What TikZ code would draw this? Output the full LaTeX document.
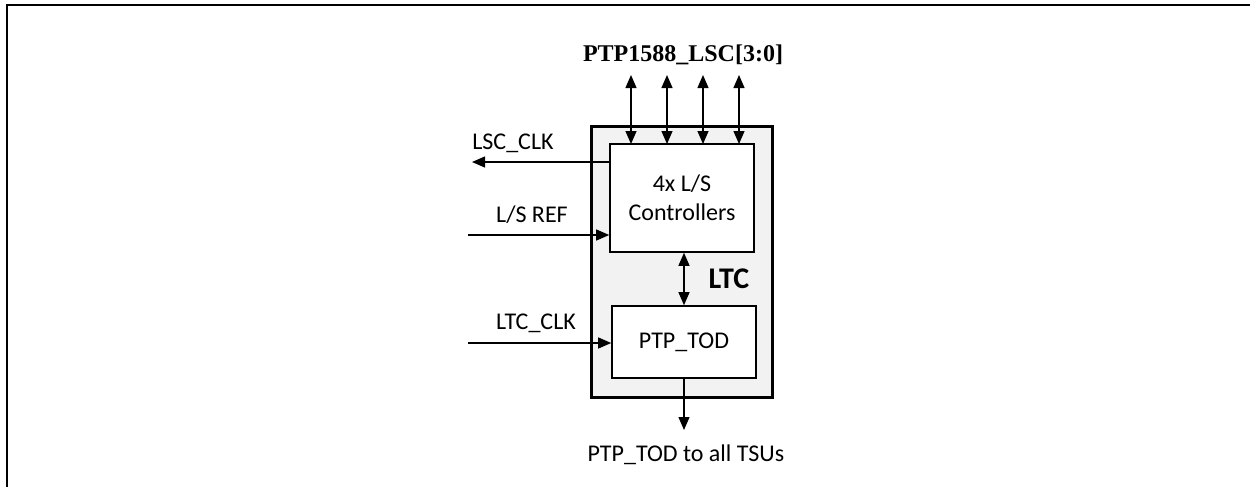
\documentclass[tikz,border=0pt]{standalone}
\usepackage{fontspec}
\setmainfont{Carlito}
\newfontfamily\timesfont{Liberation Serif}
\usetikzlibrary{arrows.meta,positioning}
\definecolor{panelgray}{HTML}{F2F2F2}

\begin{document}
\begin{tikzpicture}[x=0.5pt,y=-0.5pt,
  blockbox/.style={rectangle,draw=black,line width=0.8pt,fill=white,align=center,font=\fontsize{12}{14.5}\selectfont,inner sep=0pt},
  sig/.style={-{Triangle[length=6.5pt,width=5.5pt]},line width=0.6pt},
  bisig/.style={{Triangle[length=6.5pt,width=5.5pt]}-{Triangle[length=6.5pt,width=5.5pt]},line width=0.6pt},
  siglabel/.style={font=\fontsize{12}{14.5}\selectfont,inner sep=0pt}]
\useasboundingbox (0,0) rectangle (1250,487);
% frame
\draw[line width=1pt] (7,487) -- (7,5) -- (1250,5);
% LTC block
\node[rectangle,draw=black,line width=1.5pt,fill=panelgray,minimum width=90.5pt,minimum height=135.5pt,inner sep=0pt] (ltc) at (681.5,261.5) {};
\node[blockbox,minimum width=72pt,minimum height=54pt] (lsc) at (682,198) {4x L/S\\Controllers};
\node[blockbox,minimum width=72pt,minimum height=36pt] (tod) at (684,342) {PTP\_TOD};
\node[font=\fontsize{15}{18}\selectfont\bfseries,inner sep=0pt] (ltcname) at (729,279) {LTC};
% PTP1588 bus
\node[font=\timesfont\fontsize{12}{14.5}\selectfont\bfseries,inner sep=0pt] (bus) at (683,55) {PTP1588\_LSC[3:0]};
\foreach \x in {631,667,703,739}
  \draw[bisig] (\x,75) -- (\x,144);
% side signals
\coordinate (lscout) at (472,162);
\coordinate (refin) at (468,235);
\coordinate (clkin) at (468,343);
\coordinate (todout) at (684,430);
\node[siglabel] (lscname) at (513,143) {LSC\_CLK};
\node[siglabel] (refname) at (532,215) {L/S REF};
\node[siglabel] (clkname) at (536,323) {LTC\_CLK};
\node[siglabel] (todname) at (686,455) {PTP\_TOD to all TSUs};
\draw[sig] (lsc.west |- lscout) -- (lscout);
\draw[sig] (refin) -- (lsc.west |- refin);
\draw[sig] (clkin) -- (tod.west |- clkin);
\draw[bisig] (lsc.south -| tod.north) -- (tod.north);
\draw[sig] (tod.south) -- (todout);
\end{tikzpicture}
\end{document}
